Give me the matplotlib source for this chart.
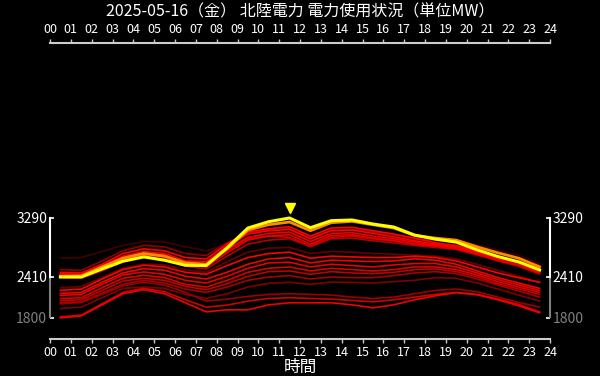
import matplotlib
matplotlib.use("Agg")
import matplotlib.pyplot as plt
from matplotlib.transforms import blended_transform_factory, offset_copy

plt.rcParams['font.family'] = ['Noto Sans CJK JP', 'DejaVu Sans']

TITLE = "2025-05-16（金） 北陸電力 電力使用状況（単位MW）"
HOURS = [h + 0.5 for h in range(24)]
XTICKS = list(range(25))
XLABELS = [f"{h:02d}" for h in XTICKS]

# today (yellow) and previous day (orange)
TODAY = [2410, 2410, 2530, 2645, 2710, 2660, 2585, 2580, 2845, 3140, 3235, 3290,
         3145, 3250, 3260, 3200, 3155, 3035, 2975, 2930, 2815, 2715, 2635, 2515]
YESTERDAY = [2420, 2425, 2560, 2690, 2760, 2720, 2620, 2600, 2830, 3110, 3190, 3230,
             3100, 3220, 3240, 3190, 3140, 3030, 2990, 2960, 2860, 2770, 2690, 2560]

# earlier days (red)
PAST = [
    [2690, 2700, 2790, 2880, 2940, 2930, 2860, 2800, 2900, 3000, 3040, 3050,
     2950, 3020, 3030, 3000, 2990, 2960, 2980, 2960, 2890, 2810, 2730, 2610],
    [2250, 2270, 2400, 2540, 2600, 2590, 2520, 2480, 2640, 2780, 2840, 2850,
     2760, 2790, 2780, 2760, 2750, 2735, 2720, 2680, 2600, 2510, 2420, 2330],
    [1940, 1960, 2100, 2240, 2260, 2240, 2150, 2090, 2160, 2260, 2315, 2330,
     2300, 2335, 2330, 2320, 2340, 2360, 2400, 2390, 2320, 2230, 2140, 2050],
    [2520, 2510, 2650, 2800, 2880, 2860, 2760, 2730, 2920, 3060, 3110, 3130,
     3000, 3110, 3120, 3080, 3040, 2980, 2960, 2930, 2850, 2770, 2690, 2580],
    [2010, 2030, 2150, 2280, 2330, 2290, 2180, 2050, 2080, 2120, 2150, 2160,
     2150, 2140, 2110, 2090, 2110, 2160, 2210, 2230, 2190, 2110, 2030, 1960],
    [2030, 2040, 2170, 2300, 2360, 2320, 2230, 2180, 2260, 2360, 2410, 2430,
     2380, 2410, 2400, 2400, 2430, 2470, 2490, 2460, 2380, 2290, 2200, 2110],
    [2400, 2390, 2500, 2640, 2700, 2680, 2570, 2530, 2720, 2900, 2960, 2980,
     2860, 2980, 2990, 2950, 2920, 2880, 2850, 2820, 2740, 2650, 2570, 2450],
    [2060, 2070, 2210, 2350, 2390, 2360, 2270, 2220, 2310, 2420, 2490, 2500,
     2450, 2490, 2470, 2460, 2480, 2520, 2530, 2490, 2410, 2310, 2230, 2150],
    [2450, 2440, 2560, 2700, 2760, 2730, 2620, 2590, 2800, 2980, 3020, 3000,
     2880, 3000, 3020, 2980, 2950, 2900, 2870, 2840, 2770, 2690, 2610, 2490],
    [1815, 1840, 2010, 2180, 2240, 2190, 2070, 1960, 1990, 2050, 2090, 2100,
     2090, 2080, 2060, 2040, 2070, 2110, 2150, 2180, 2150, 2080, 2000, 1890],
    [2090, 2100, 2250, 2390, 2435, 2400, 2300, 2260, 2360, 2480, 2540, 2560,
     2500, 2540, 2520, 2500, 2520, 2560, 2560, 2520, 2440, 2340, 2260, 2180],
    [2420, 2420, 2540, 2680, 2740, 2710, 2600, 2560, 2770, 2960, 3020, 3040,
     2900, 3030, 3040, 2990, 2950, 2900, 2870, 2830, 2750, 2660, 2580, 2470],
    [2135, 2150, 2300, 2440, 2485, 2450, 2360, 2320, 2420, 2540, 2620, 2630,
     2560, 2600, 2580, 2560, 2590, 2610, 2610, 2560, 2470, 2370, 2290, 2210],
    [2440, 2430, 2560, 2700, 2770, 2740, 2630, 2610, 2820, 3000, 3060, 3080,
     2940, 3060, 3070, 3020, 2980, 2930, 2880, 2850, 2760, 2680, 2600, 2480],
    [1800, 1830, 1995, 2160, 2220, 2160, 2025, 1890, 1920, 1920, 1995, 2025,
     2025, 2025, 1995, 1950, 1995, 2070, 2130, 2175, 2145, 2070, 1980, 1875],
    [2165, 2180, 2330, 2470, 2535, 2510, 2420, 2380, 2480, 2600, 2680, 2700,
     2620, 2660, 2650, 2640, 2650, 2680, 2660, 2600, 2500, 2400, 2320, 2240],
    [2460, 2450, 2580, 2720, 2790, 2760, 2650, 2640, 2870, 3050, 3100, 3120,
     2980, 3100, 3110, 3060, 3010, 2950, 2900, 2860, 2780, 2700, 2620, 2510],
    [2210, 2230, 2380, 2520, 2585, 2560, 2480, 2450, 2580, 2700, 2760, 2780,
     2690, 2720, 2710, 2700, 2700, 2720, 2700, 2650, 2560, 2470, 2400, 2330],
    [2480, 2470, 2600, 2760, 2830, 2800, 2700, 2680, 2900, 3080, 3130, 3160,
     3020, 3140, 3150, 3100, 3050, 2990, 2920, 2880, 2800, 2720, 2640, 2530],
]
# red intensity per past day (oldest darkest)
PAST_SHADE = [0.25, 0.4, 0.5, 0.55, 0.6, 0.65, 0.7, 0.75, 0.8, 0.82,
              0.85, 0.88, 0.9, 0.92, 0.94, 0.96, 0.98, 1.0, 1.0]

Y_MIN, Y_LOW, Y_MAX = 1800, 2410, 3290

fig = plt.figure(figsize=(6, 3.76), dpi=100, facecolor="black")
ax = fig.add_axes([50 / 600, 1 - 339 / 376, 500 / 600, (339 - 43) / 376])
ax.set_facecolor("black")

for vals, s in zip(PAST, PAST_SHADE):
    ax.plot(HOURS, vals, color=(s, 0, 0), lw=1.2, zorder=2)
ax.plot(HOURS, YESTERDAY, color="#ff8c00", lw=2.0, zorder=3)
ax.plot(HOURS, TODAY, color="#ffff00", lw=2.2, zorder=4)

# marker above today's peak
imax = TODAY.index(max(TODAY))
ax.plot([HOURS[imax]], [TODAY[imax]], marker="v", color="#ffff00", ms=7, ls="none",
        transform=offset_copy(ax.transData, fig=fig, y=10, units="dots"), clip_on=False)

ax.set_xlim(0, 24)
ax.set_ylim(1485, 5900)

# x axes top and bottom
ax.set_xticks(XTICKS, XLABELS)
ax.tick_params(axis="x", which="both", top=True, bottom=True, labeltop=True,
               labelbottom=True, direction="out", length=3, width=1,
               color="#cccccc", labelcolor="white", labelsize=9, pad=2)
for side in ("top", "bottom"):
    ax.spines[side].set_color("#cccccc")
    ax.spines[side].set_linewidth(1.5)

# y bracket spines
ax.set_yticks([Y_MIN, Y_LOW, Y_MAX], [str(Y_MIN), str(Y_LOW), str(Y_MAX)])
ax.tick_params(axis="y", left=True, right=True, labelleft=True, labelright=True,
               direction="in", length=3, width=1.2, color="white",
               labelcolor="white", labelsize=10, pad=2)
for side in ("left", "right"):
    ax.spines[side].set_bounds(Y_LOW, Y_MAX)
    ax.spines[side].set_color("white")
    ax.spines[side].set_linewidth(1.5)
tr = blended_transform_factory(ax.transAxes, ax.transData)
for xa in (0, 1):
    ax.plot([xa, xa], [Y_MIN, Y_LOW], color="#808080", lw=1.5, transform=tr,
            clip_on=False, solid_capstyle="butt")
t0 = ax.yaxis.get_major_ticks()[0]
t0.tick1line.set_color("#808080")
t0.tick2line.set_color("#808080")
t0.label1.set_color("#808080")
t0.label2.set_color("#808080")

ax.set_xlabel("時間", color="white", fontsize=12, labelpad=0)
fig.text(0.5, 1 - 12 / 376, TITLE, color="white", fontsize=11.5,
         ha="center", va="center")

fig.savefig("out.png", dpi=100, facecolor="black")
